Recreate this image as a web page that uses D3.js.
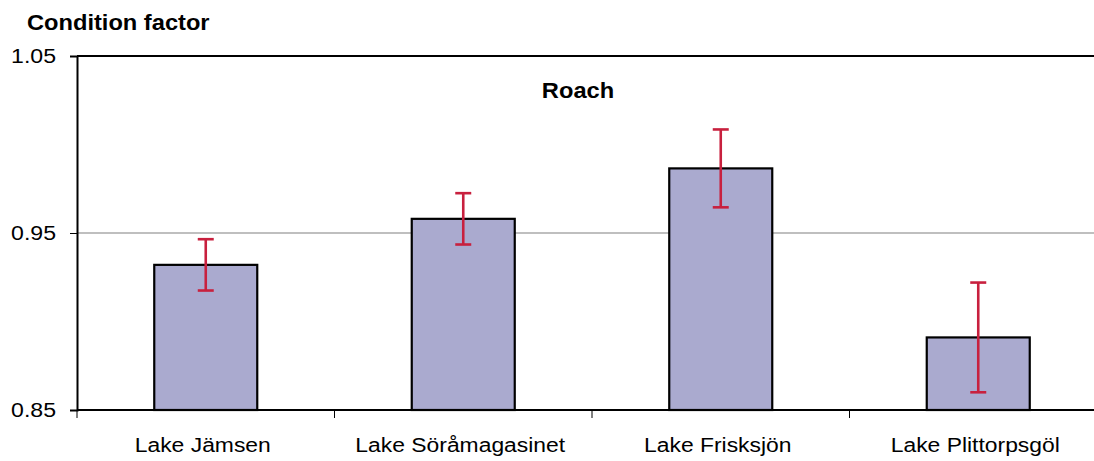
<!DOCTYPE html>
<html>
<head>
<meta charset="utf-8">
<script src="https://cdn.jsdelivr.net/npm/d3@7/dist/d3.min.js"></script>
<style>
  html, body { margin: 0; padding: 0; background: #fff; }
  svg { display: block; font-family: "Liberation Sans", Arial, sans-serif; }
</style>
</head>
<body>
<svg id="chart" width="1094" height="461"></svg>
<script>
// Mean condition factor of roach per lake, with error bar half-widths
const lakes = ["Lake Jämsen", "Lake Söråmagasinet", "Lake Frisksjön", "Lake Plittorpsgöl"];
const condition = [0.932, 0.958, 0.9865, 0.891];
const errors = [0.0145, 0.0145, 0.022, 0.031];
const yTicks = [0.85, 0.95, 1.05];
const yTickLabels = ["0.85", "0.95", "1.05"];

(function () {
  const svg = d3.select("#chart");
  const plotLeft = 77, plotTop = 56, plotBottom = 410, plotRight = 1107;
  const sx = 1.1; // horizontal stretch of the lettering

  const x = d3.scaleBand().domain(lakes).range([plotLeft, plotRight]).paddingInner(0.6).paddingOuter(0.3);
  const y = d3.scaleLinear().domain([0.85, 1.05]).range([plotBottom, plotTop]);
  const step = x.step();

  // gridline at 0.95
  svg.append("g").selectAll("line")
    .data(yTicks.filter(v => v > 0.85 && v < 1.05))
    .join("line")
    .attr("x1", plotLeft).attr("x2", plotRight)
    .attr("y1", d => y(d)).attr("y2", d => y(d))
    .attr("stroke", "#808080").attr("stroke-width", 1.2);

  // top frame line
  svg.append("line")
    .attr("x1", plotLeft).attr("x2", plotRight)
    .attr("y1", y(1.05)).attr("y2", y(1.05))
    .attr("stroke", "#000").attr("stroke-width", 2);

  // bars
  svg.append("g").selectAll("rect")
    .data(lakes)
    .join("rect")
    .attr("x", d => x(d))
    .attr("width", x.bandwidth())
    .attr("y", (d, i) => y(condition[i]))
    .attr("height", (d, i) => y(0.85) - y(condition[i]))
    .attr("fill", "#aaaacf")
    .attr("stroke", "#000")
    .attr("stroke-width", 2.2);

  // error bars
  const eb = svg.append("g").attr("stroke", "#c8203e").attr("stroke-width", 2.6);
  lakes.forEach((d, i) => {
    const cx = x(d) + x.bandwidth() / 2;
    const hi = y(condition[i] + errors[i]);
    const lo = y(condition[i] - errors[i]);
    eb.append("line").attr("x1", cx).attr("x2", cx).attr("y1", hi).attr("y2", lo);
    eb.append("line").attr("x1", cx - 8).attr("x2", cx + 8).attr("y1", hi).attr("y2", hi);
    eb.append("line").attr("x1", cx - 8).attr("x2", cx + 8).attr("y1", lo).attr("y2", lo);
  });

  // y axis
  const yAxis = d3.axisLeft(y).tickValues(yTicks)
    .tickFormat((d, i) => yTickLabels[i]).tickSize(7).tickPadding(14);
  const gy = svg.append("g").attr("transform", `translate(${plotLeft},0)`).call(yAxis);
  gy.select(".domain").attr("stroke", "#000").attr("stroke-width", 2);
  gy.selectAll(".tick line").attr("stroke", "#000").attr("stroke-width", 1);
  gy.selectAll(".tick text")
    .attr("font-size", 21).attr("fill", "#000")
    .attr("font-family", "Liberation Sans, Arial, sans-serif")
    .attr("transform", function () {
      // stretch about the label's right edge so it stays anchored to the tick
      const tx = +d3.select(this).attr("x");
      return `translate(${-tx * (sx - 1)},0) scale(${sx},1)`;
    });

  // x axis line with category separators
  svg.append("line")
    .attr("x1", plotLeft).attr("x2", plotRight)
    .attr("y1", plotBottom).attr("y2", plotBottom)
    .attr("stroke", "#000").attr("stroke-width", 2);
  svg.append("g").selectAll("line")
    .data(d3.range(lakes.length + 1))
    .join("line")
    .attr("x1", i => plotLeft + i * step).attr("x2", i => plotLeft + i * step)
    .attr("y1", plotBottom).attr("y2", plotBottom + 8)
    .attr("stroke", "#000").attr("stroke-width", 1);

  // category labels
  svg.append("g").selectAll("text")
    .data(lakes)
    .join("text")
    .attr("transform", d => `translate(${x(d) + x.bandwidth() / 2 - 3},452) scale(${sx},1)`)
    .attr("text-anchor", "middle")
    .attr("font-size", 20.8)
    .attr("fill", "#000")
    .text(d => d);

  // axis title and panel title
  svg.append("text")
    .attr("transform", `translate(27,30) scale(${sx},1)`)
    .attr("font-size", 21.5).attr("font-weight", "bold")
    .text("Condition factor");

  svg.append("text")
    .attr("transform", `translate(578,98) scale(${sx},1)`)
    .attr("text-anchor", "middle")
    .attr("font-size", 21.5).attr("font-weight", "bold")
    .text("Roach");
})();
</script>
</body>
</html>
